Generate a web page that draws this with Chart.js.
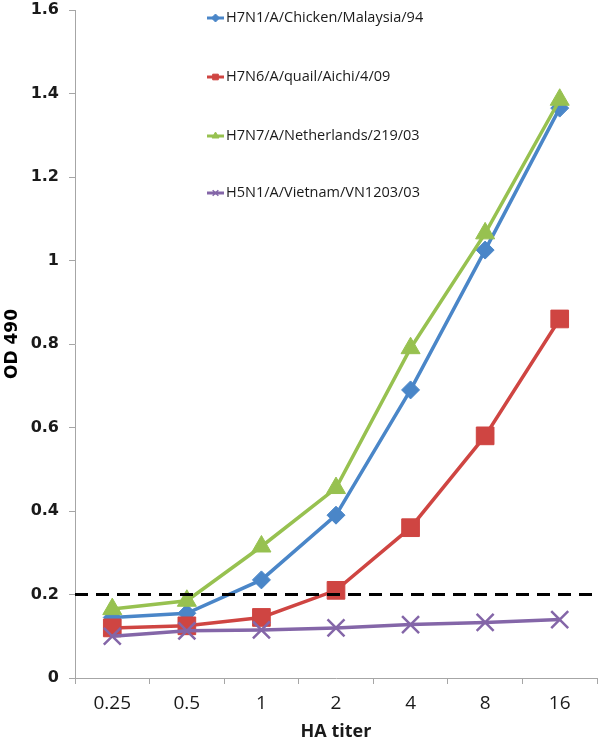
<!DOCTYPE html>
<html>
<head>
<meta charset="utf-8">
<script src="https://cdn.jsdelivr.net/npm/chart.js@4.4.1/dist/chart.umd.min.js"></script>
<style>
  html, body { margin: 0; padding: 0; background: #fff; }
  #wrap { position: relative; width: 600px; height: 743px; }
</style>
</head>
<body>
<div id="wrap"><canvas id="titer-chart" width="600" height="743"></canvas></div>
<script>
const haTiter = ['0.25', '0.5', '1', '2', '4', '8', '16'];
const yTicks = [0, 0.2, 0.4, 0.6, 0.8, 1, 1.2, 1.4, 1.6];
const thresholdValue = 0.2;

const h7n1Malaysia = [0.145, 0.155, 0.235, 0.39, 0.69, 1.025, 1.365];
const h7n6Aichi = [0.12, 0.125, 0.145, 0.21, 0.36, 0.58, 0.86];
const h7n7Netherlands = [0.165, 0.185, 0.315, 0.455, 0.79, 1.065, 1.385];
const h5n1Vietnam = [0.10, 0.113, 0.115, 0.12, 0.128, 0.133, 0.14];

const seriesNames = [
  'H7N1/A/Chicken/Malaysia/94',
  'H7N6/A/quail/Aichi/4/09',
  'H7N7/A/Netherlands/219/03',
  'H5N1/A/Vietnam/VN1203/03',
];

const AXIS_GREY = '#a6a6a6';

function makeSeries(label, data, color, pointStyle, radius, order) {
  return {
    label,
    data,
    borderColor: color,
    backgroundColor: color,
    borderWidth: 3.5,
    pointStyle,
    pointRadius: radius,
    pointBorderWidth: pointStyle === 'crossRot' ? 2.5 : 1,
    pointBorderColor: color,
    tension: 0,
    order,
  };
}

// dashed cut-off line across the plot
const thresholdPlugin = {
  id: 'threshold',
  afterDatasetsDraw(chart) {
    const { ctx, chartArea } = chart;
    const y = chart.scales.y.getPixelForValue(thresholdValue);
    ctx.save();
    ctx.strokeStyle = '#000';
    ctx.lineWidth = 3;
    ctx.setLineDash([13, 8]);
    ctx.beginPath();
    ctx.moveTo(chartArea.left, y);
    ctx.lineTo(chartArea.right, y);
    ctx.stroke();
    ctx.restore();
  },
};

// legend drawn inside the plot, one row per series
const innerLegendPlugin = {
  id: 'innerLegend',
  afterDraw(chart) {
    const { ctx } = chart;
    const rowsY = [18, 77, 136, 193];
    const lineX0 = 207;
    const lineX1 = 224;
    ctx.save();
    chart.data.datasets.forEach((ds, i) => {
      const y = rowsY[i];
      ctx.strokeStyle = ds.borderColor;
      ctx.lineWidth = 3;
      ctx.setLineDash([]);
      ctx.beginPath();
      ctx.moveTo(lineX0, y);
      ctx.lineTo(lineX1, y);
      ctx.stroke();
      ctx.fillStyle = ds.backgroundColor;
      ctx.lineWidth = ds.pointStyle === 'crossRot' ? 1.5 : 1;
      Chart.helpers.drawPoint(ctx, { pointStyle: ds.pointStyle, radius: 4, rotation: 0, borderWidth: 1 }, (lineX0 + lineX1) / 2, y);
      ctx.fillStyle = '#1a1a1a';
      ctx.font = '14.5px "Open Sans"';
      ctx.textBaseline = 'middle';
      ctx.textAlign = 'left';
      ctx.fillText(ds.label, lineX1 + 2, y);
    });
    ctx.restore();
  },
};

const ctx = document.getElementById('titer-chart');

new Chart(ctx, {
  type: 'line',
  data: {
    labels: haTiter,
    datasets: [
      makeSeries(seriesNames[0], h7n1Malaysia, '#4A86C8', 'rectRot', 9, 4),
      makeSeries(seriesNames[1], h7n6Aichi, '#CF4542', 'rect', 12.5, 3),
      makeSeries(seriesNames[2], h7n7Netherlands, '#97C150', 'triangle', 11, 2),
      makeSeries(seriesNames[3], h5n1Vietnam, '#8466A8', 'crossRot', 12, 1),
    ],
  },
  plugins: [thresholdPlugin, innerLegendPlugin],
  options: {
    responsive: false,
    animation: false,
    devicePixelRatio: 1,
    layout: { autoPadding: false, padding: { top: 10, right: 3, left: 0, bottom: 0 } },
    plugins: {
      legend: { display: false },
      tooltip: { enabled: false },
    },
    scales: {
      x: {
        offset: true,
        grid: {
          offset: true,
          drawOnChartArea: false,
          drawTicks: true,
          tickLength: 6,
          color: AXIS_GREY,
        },
        border: { color: AXIS_GREY, width: 1 },
        ticks: {
          color: '#1a1a1a',
          font: { family: 'Open Sans', size: 19 },
          padding: 8,
          maxRotation: 0,
        },
        title: {
          display: true,
          text: 'HA titer',
          color: '#1a1a1a',
          font: { family: 'Open Sans', size: 18, weight: 'bold' },
          padding: { top: 0, bottom: 0 },
        },
        afterFit: (scale) => {
          scale.height = 65;
          scale.paddingLeft = 0;
          scale.paddingRight = 0;
        },
      },
      y: {
        min: 0,
        max: 1.6,
        afterBuildTicks: (scale) => { scale.ticks = yTicks.map((v) => ({ value: v })); },
        grid: {
          drawOnChartArea: false,
          drawTicks: true,
          tickLength: 6,
          color: AXIS_GREY,
        },
        border: { color: AXIS_GREY, width: 1 },
        ticks: {
          color: '#1a1a1a',
          font: { family: 'DejaVu Sans', size: 16, weight: 'bold' },
          padding: 10,
          callback: (v) => String(Math.round(v * 10) / 10),
        },
        title: {
          display: true,
          text: 'OD 490',
          color: '#000',
          font: { family: 'DejaVu Sans', size: 17, weight: 'bold' },
          padding: { top: 2, bottom: 0 },
        },
        afterFit: (scale) => {
          scale.width = 75;
          scale.paddingTop = 0;
          scale.paddingBottom = 0;
        },
      },
    },
  },
});
</script>
</body>
</html>
